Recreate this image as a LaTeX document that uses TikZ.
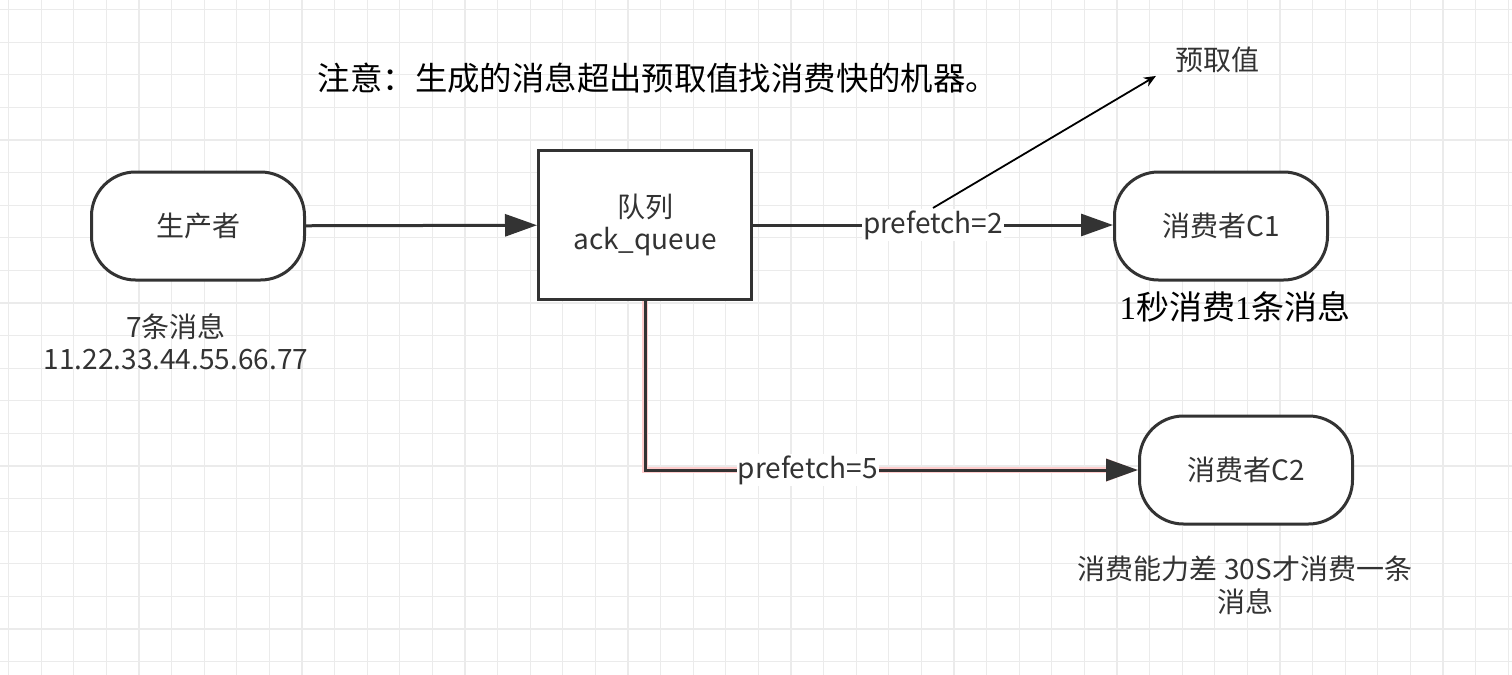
\documentclass[tikz,border=0pt]{standalone}
\usepackage{fontspec}
\setmainfont{Noto Sans CJK SC}
\newfontfamily\numserif{Liberation Serif}
\usepackage{xcolor}
\usetikzlibrary{arrows.meta, positioning}

\definecolor{ink}{HTML}{333333}
\definecolor{gridc}{HTML}{EBEBEB}

\begin{document}
\begin{tikzpicture}[
    x=0.5pt, y=-0.5pt,
    font=\fontsize{14}{16}\selectfont, text=ink,
    term/.style={rectangle, rounded corners=22pt, draw=ink, line width=1.5pt,
                 fill=white, minimum width=106.5pt, minimum height=54pt,
                 align=center},
    box/.style={rectangle, draw=ink, line width=1.5pt, fill=white,
                minimum width=106.5pt, minimum height=74.5pt, align=center},
    arr/.style={-{Triangle[length=16pt, width=11pt]}, draw=ink, line width=1.5pt},
    sel/.style={preaction={draw=red!20, line width=2.6pt}},
    thin/.style={-{Stealth[length=6pt, width=5pt]}, black, line width=0.9pt},
    lbl/.style={fill=white, inner sep=0.5pt},
    note/.style={align=center}
  ]

  % canvas and grid
  \fill[white] (0,0) rectangle (1512,675);
  \useasboundingbox (0,0) rectangle (1512,675);
  \foreach \i in {0,...,46}
    \draw[gridc, line width=0.6pt] (8.5+32.6*\i,0) -- (8.5+32.6*\i,675);
  \foreach \j in {0,...,20}
    \draw[gridc, line width=0.6pt] (0,9.5+32.6*\j) -- (1512,9.5+32.6*\j);

  % nodes
  \node[term] (prod) at (198,226) {生产者};
  \node[box]  (q)    at (645,225) {队列\\ack\_queue};
  \node[term] (c1)   at (1221,226) {消费者C1};
  \node[term] (c2)   at (1246,470) {消费者C2};

  % notes
  \node[text=black, font=\fontsize{16.2}{18}\selectfont] (title) at (658,78)
    {注意：生成的消息超出预取值找消费快的机器。};
  \node (pre) at (1217,60) {预取值};
  \node[note] (prodn) at (176,342) {7条消息\\11.22.33.44.55.66.77};
  \node[text=black, font=\fontsize{16.5}{18}\selectfont] (c1n) at (1235,307)
    {{\numserif 1}秒消费{\numserif 1}条消息};
  \node[note, font=\fontsize{14}{16.5}\selectfont] (c2n) at (1245,585)
    {消费能力差 30S才消费一条\\消息};

  % connectors
  \draw[arr] (prod) -- (q);
  \draw[arr] (q.east) -- node[lbl] (pf2) {prefetch=2} (c1.west |- q.east);
  \draw[arr, sel] (q.south) |- node[lbl, pos=0.665] (pf5) {prefetch=5} (c2.west);
  \draw[thin] (pf2.north) -- ([xshift=-6pt, yshift=2pt]pre.south west);

\end{tikzpicture}
\end{document}
